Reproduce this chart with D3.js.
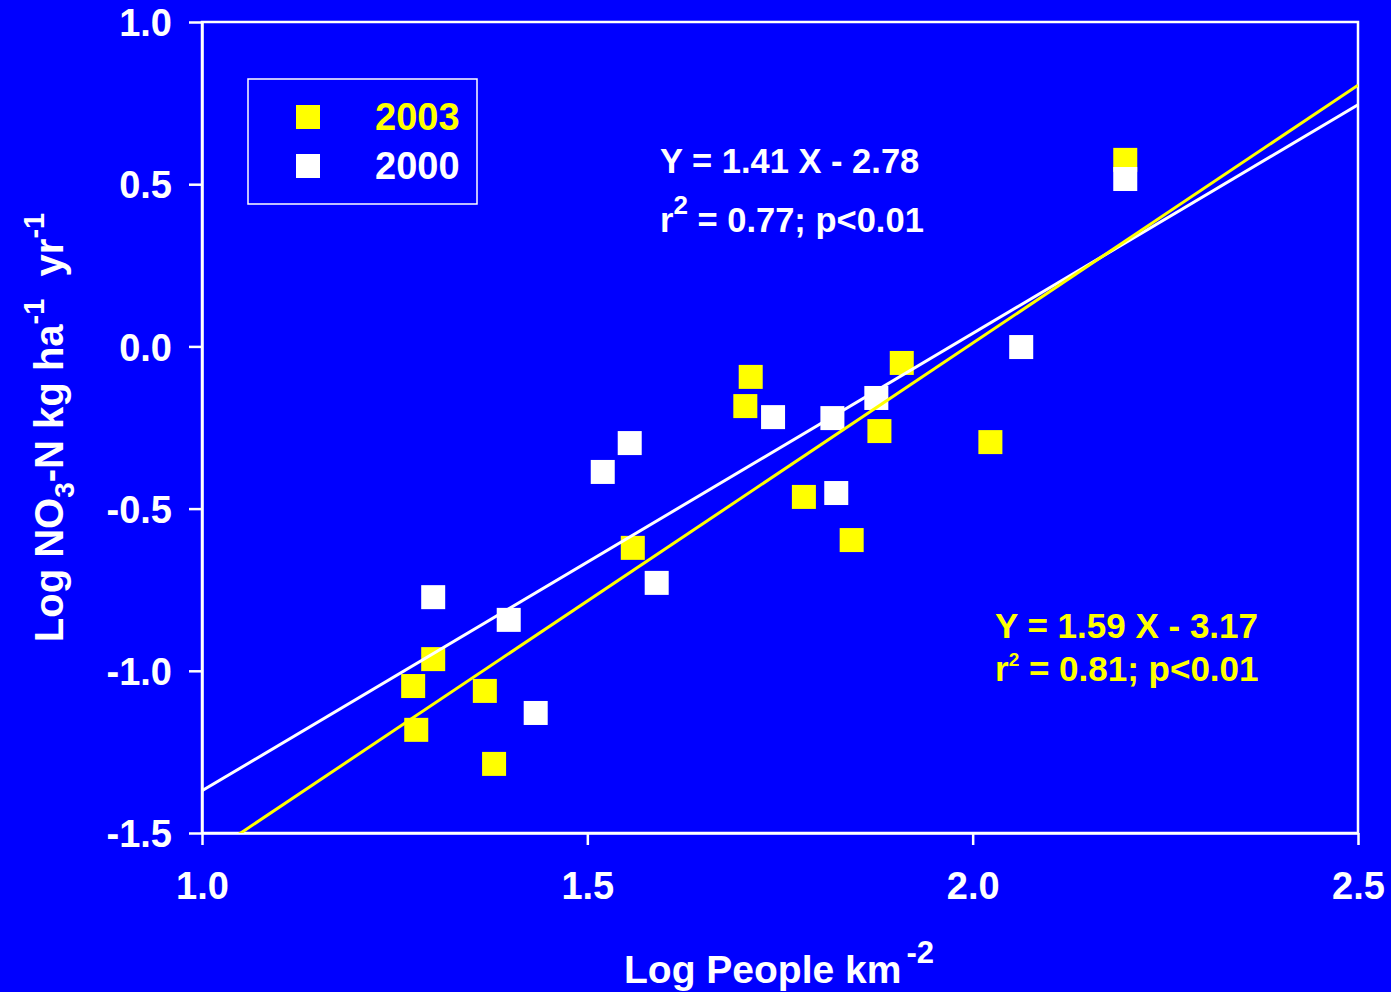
<!DOCTYPE html>
<html>
<head>
<meta charset="utf-8">
<script src="https://cdn.jsdelivr.net/npm/d3@7"></script>
<style>
  html, body { margin: 0; padding: 0; background: #0000ff; }
  svg { display: block; }
  text { font-family: "Liberation Sans", Arial, sans-serif; font-weight: bold; }
</style>
</head>
<body>
<svg id="chart" width="1391" height="992"></svg>
<script>
// ---- data ----
const xTicks = [1.0, 1.5, 2.0, 2.5];
const yTicks = [1.0, 0.5, 0.0, -0.5, -1.0, -1.5];

const seriesNames = ["2003", "2000"];
const seriesColors = ["#ffff00", "#ffffff"];

// 2003 (yellow)
const pop2003 = [1.300, 1.274, 1.367, 1.278, 1.379, 1.559, 1.712, 1.705, 1.908, 1.879, 1.781, 1.843, 2.023, 2.198];
const no3_2003 = [-0.964, -1.047, -1.062, -1.182, -1.287, -0.621, -0.094, -0.184, -0.051, -0.261, -0.464, -0.597, -0.295, 0.575];

// 2000 (white)
const pop2000 = [1.300, 1.398, 1.433, 1.555, 1.520, 1.590, 1.741, 1.818, 1.875, 1.823, 2.063, 2.198];
const no3_2000 = [-0.773, -0.843, -1.130, -0.298, -0.387, -0.729, -0.218, -0.221, -0.159, -0.452, -0.002, 0.516];

// regression fits: [2003, 2000]
const fitSlopes = [1.59, 1.41];
const fitIntercepts = [-3.17, -2.78];

// ---- layout ----
(function () {
const svg = d3.select("#chart");
const W = 1391, H = 992;
const pL = 202, pR = 1358, pT = 22, pB = 833;
const font = "'Liberation Sans', Arial, sans-serif";

svg.append("rect").attr("x", 0).attr("y", 0).attr("width", W).attr("height", H).attr("fill", "#0000ff");

const x = d3.scaleLinear().domain([1.0, 2.5]).range([pL, pR]);
const y = d3.scaleLinear().domain([-1.5, 1.0]).range([pB, pT]);

svg.append("defs").append("clipPath").attr("id", "plotClip")
  .append("rect").attr("x", pL).attr("y", pT).attr("width", pR - pL).attr("height", pB - pT);

// frame (top and right borders)
svg.append("rect")
  .attr("x", pL).attr("y", pT).attr("width", pR - pL).attr("height", pB - pT)
  .attr("fill", "none").attr("stroke", "#ffffff").attr("stroke-width", 2.5);

// axes
const xAxis = d3.axisBottom(x).tickValues(xTicks).tickFormat(d => d.toFixed(1))
  .tickSizeInner(12).tickSizeOuter(0).tickPadding(27);
const yAxis = d3.axisLeft(y).tickValues(yTicks).tickFormat(d => d.toFixed(1))
  .tickSizeInner(13).tickSizeOuter(0).tickPadding(17);

const gx = svg.append("g").attr("transform", `translate(0,${pB})`).call(xAxis);
const gy = svg.append("g").attr("transform", `translate(${pL},0)`).call(yAxis);

[gx, gy].forEach(g => {
  g.select(".domain").attr("stroke", "#ffffff").attr("stroke-width", 2.5);
  g.selectAll(".tick line").attr("stroke", "#ffffff").attr("stroke-width", 2.5);
  g.selectAll(".tick text").attr("fill", "#ffffff")
    .attr("font-family", font).attr("font-weight", "bold").attr("font-size", 38);
});
gy.selectAll(".tick text").attr("dy", "0.36em");

// points
const plot = svg.append("g").attr("clip-path", "url(#plotClip)");
const sq = 24;
const dataSets = [
  pop2003.map((p, i) => ({ x: p, y: no3_2003[i] })),
  pop2000.map((p, i) => ({ x: p, y: no3_2000[i] }))
];
dataSets.forEach((ds, k) => {
  plot.append("g").selectAll("rect").data(ds).join("rect")
    .attr("x", d => x(d.x) - sq / 2)
    .attr("y", d => y(d.y) - sq / 2)
    .attr("width", sq).attr("height", sq)
    .attr("fill", seriesColors[k]);
});

// regression lines
const line = d3.line().x(d => x(d[0])).y(d => y(d[1]));
[1, 0].forEach(k => {
  const pts = [1.0, 2.5].map(v => [v, fitSlopes[k] * v + fitIntercepts[k]]);
  plot.append("path").attr("d", line(pts))
    .attr("fill", "none").attr("stroke", seriesColors[k]).attr("stroke-width", 3);
});

// legend
const leg = svg.append("g");
leg.append("rect").attr("x", 248).attr("y", 79).attr("width", 229).attr("height", 125)
  .attr("fill", "none").attr("stroke", "#ffffff").attr("stroke-width", 1.5);
seriesNames.forEach((name, i) => {
  const cy = 117 + i * 49;
  leg.append("rect").attr("x", 296).attr("y", cy - 12).attr("width", 24).attr("height", 24)
    .attr("fill", seriesColors[i]);
  leg.append("text").attr("x", 375).attr("y", cy + 13)
    .attr("fill", seriesColors[i]).attr("font-size", 38).text(name);
});

// annotations
function annot(xp, y1, y2, color, fs, eq, r2, supFs, supDy) {
  svg.append("text").attr("x", xp).attr("y", y1).attr("fill", color).attr("font-size", fs).text(eq);
  const t = svg.append("text").attr("x", xp).attr("y", y2).attr("fill", color).attr("font-size", fs);
  t.append("tspan").text("r");
  t.append("tspan").attr("font-size", supFs).attr("dy", supDy).text("2");
  t.append("tspan").attr("dy", -supDy).text(" = " + r2 + "; p<0.01");
}
annot(660, 173, 232, "#ffffff", 34.5, "Y = 1.41 X - 2.78", "0.77", 26, -18);
annot(995, 638, 681, "#ffff00", 35, "Y = 1.59 X - 3.17", "0.81", 19, -15);

// x axis title
const xt = svg.append("text").attr("x", 624).attr("y", 983).attr("fill", "#ffffff").attr("font-size", 39);
xt.append("tspan").text("Log People km");
xt.append("tspan").attr("font-size", 31).attr("dy", -20).attr("dx", 5).text("-2");

// y axis title
const yt = svg.append("text")
  .attr("transform", `translate(63,${(pT + pB) / 2}) rotate(-90)`)
  .attr("text-anchor", "middle").attr("fill", "#ffffff").attr("font-size", 40);
yt.append("tspan").text("Log NO");
yt.append("tspan").attr("font-size", 28).attr("dy", 11).text("3");
yt.append("tspan").attr("dy", -11).text("-N kg ha");
yt.append("tspan").attr("font-size", 29).attr("dy", -19).text("-1");
yt.append("tspan").attr("dy", 19).text("\u00a0 yr");
yt.append("tspan").attr("font-size", 29).attr("dy", -19).text("-1");
})();
</script>
</body>
</html>
